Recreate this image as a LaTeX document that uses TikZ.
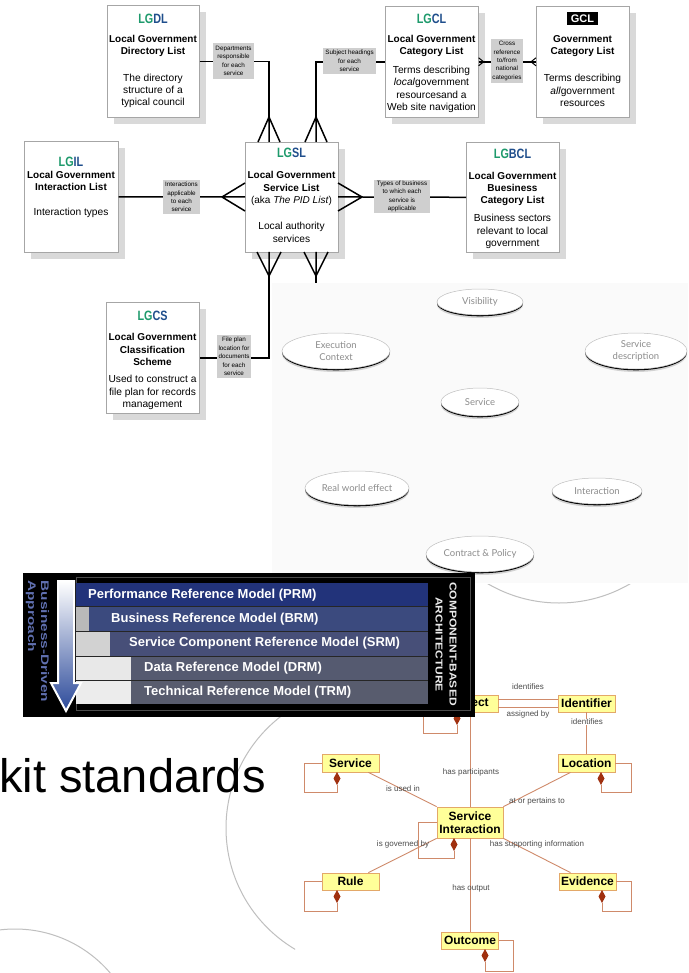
\documentclass[tikz,border=0pt]{standalone}
\usepackage{fontspec}
\setmainfont{Liberation Sans}
\newfontfamily\latofont{Lato}
\usetikzlibrary{shapes.geometric,calc}
\definecolor{lggreen}{HTML}{1E9A6C}
\definecolor{lgblue}{HTML}{1F4E8C}
\definecolor{umlfill}{HTML}{FFFF99}
\definecolor{umlborder}{HTML}{E3A869}
\definecolor{umlline}{HTML}{CF8A6A}
\definecolor{dmdcol}{HTML}{A0300F}
\definecolor{prmcol}{HTML}{22337A}
\definecolor{brmcol}{HTML}{3B4A7E}
\definecolor{srmcol}{HTML}{474F78}
\definecolor{drmcol}{HTML}{555A70}
\definecolor{trmcol}{HTML}{585C6E}
\definecolor{arrowblue}{HTML}{2C4A9A}
\definecolor{bdblue}{HTML}{6070B0}
\newcommand\lgt[2]{\scalebox{0.8}[1]{\textcolor{lggreen}{#1}\textcolor{lgblue}{#2}}}
\newcommand\mkbox[5]{%
  \fill[shad] ({#2+7},{#3+7}) rectangle ({#4+7},{#5+7});
  \node[lgbox, minimum width={#4-#2}, minimum height={#5-#3}] (#1) at (#2,#3) {};}
\newcommand\mkell[6]{%
  \fill[gray!35] (#2,{#3+3}) ellipse [x radius=#4pt, y radius=#5pt];
  \fill[black] (#2,{#3+1.3}) ellipse [x radius=#4pt, y radius=#5pt];
  \node[ellbox, minimum width={2*#4}, minimum height={2*#5}] (#1) at (#2,#3) {#6};}
\newcommand\dmd[2]{\fill[dmdcol] (#1,#2) -- ({#1+3.5},{#2+6.5}) -- (#1,{#2+13}) -- ({#1-3.5},{#2+6.5}) -- cycle;}
\begin{document}
\begin{tikzpicture}[x=1pt,y=-1pt,
  lgbox/.style={draw=gray!70, line width=0.6pt, fill=white, anchor=north west, inner sep=0},
  shad/.style={fill=gray!30},
  conn/.style={line width=1.5pt, black},
  lab/.style={fill=gray!38, inner sep=0, align=center, font=\fontsize{6.3}{8.4}\selectfont, text=black},
  ttl/.style={inner sep=0, font=\fontsize{13.5}{14}\selectfont\bfseries},
  bld/.style={align=center, font=\fontsize{10}{12.2}\selectfont\bfseries, inner sep=0},
  dsc/.style={align=center, font=\fontsize{10.2}{12.3}\selectfont, inner sep=0},
  ellbox/.style={ellipse, draw=gray!50, line width=0.5pt, fill=white, inner sep=0, align=center,
     font=\latofont\fontsize{9.5}{12}\selectfont, text=black!45},
  arcl/.style={draw=gray!50, line width=1pt},
  uml/.style={draw=umlborder, fill=umlfill, line width=0.8pt, inner sep=0, align=center,
     font=\fontsize{12}{13.5}\selectfont\bfseries},
  ul/.style={draw=umlline, line width=0.9pt},
  ulab/.style={inner sep=0.5, font=\fontsize{8}{8}\selectfont, text=black!70},
  feat/.style={inner sep=0, anchor=west, text=white, font=\fontsize{13}{13}\selectfont\bfseries},
  vtxt/.style={rotate=-90, inner sep=0, font=\fontsize{10}{10}\selectfont\bfseries, text=gray!15},
  btxt/.style={rotate=-90, inner sep=0, font=\fontsize{11}{11}\selectfont\bfseries, text=bdblue}
]
\useasboundingbox (0,0) rectangle (688,973);
\fill[white] (0,0) rectangle (688,973);

% ---------- ellipse region ----------
\fill[gray!4] (272,283) rectangle (688,583);
\mkell{vis}{480}{302}{43}{13}{Visibility}
\mkell{exe}{336}{351}{54}{18}{Execution\\Context}
\mkell{sdesc}{636}{351}{51}{18}{Service\\description}
\mkell{svce}{480}{402}{39}{14}{Service}
\mkell{rwe}{357}{488}{52}{17}{Real world effect}
\mkell{inte}{597}{491}{45}{13}{Interaction}
\mkell{cp}{480}{554}{54}{18}{Contract \& Policy}

% ---------- arcs ----------
\begin{scope}\clip (0,700) rectangle (295,973); \draw[arcl] (367,828) circle [radius=141pt]; \end{scope}
\begin{scope}\clip (470,584) rectangle (660,640); \draw[arcl] (559,462) circle [radius=141pt]; \end{scope}
\begin{scope}\clip (0,900) rectangle (200,973); \draw[arcl] (15,1054) circle [radius=125pt]; \end{scope}

% ---------- LG boxes ----------
\mkbox{dl}{107}{5}{199}{117}
\node[ttl] (dlt) at (153,19) {\lgt{LG}{DL}};
\node[bld] (dlb) at (153,46) {Local Government\\Directory List};
\node[dsc] (dld) at (153,91) {The directory\\structure of a\\typical council};

\mkbox{cl}{385}{6}{478}{117}
\node[ttl] (clt) at (431.5,19) {\lgt{LG}{CL}};
\node[bld] (clb) at (431.5,46) {Local Government\\Category List};
\node[dsc] (cld) at (431.5,89.5) {Terms describing\\\textit{local}government\\resourcesand a\\Web site navigation};

\mkbox{gc}{536}{6}{629}{117}
\node[fill=black, text=white, font=\fontsize{11}{11}\selectfont\bfseries, minimum width=31, minimum height=13, inner sep=0] (gct) at (582.5,18.5) {GCL};
\node[bld] (gcb) at (582.5,46) {Government\\Category List};
\node[dsc] (gcd) at (582.5,90.5) {Terms describing\\\textit{all}government\\resources};

\mkbox{il}{24}{141}{118}{252}
\node[ttl] (ilt) at (71,162) {\lgt{LG}{IL}};
\node[bld] (ilb) at (71,181) {Local Government\\Interaction List};
\node[dsc] (ild) at (71,213) {Interaction types};

\mkbox{sl}{245}{142}{338}{252}
\node[ttl] (slt) at (291.5,153) {\lgt{LG}{SL}};
\node[bld] (slb) at (291.5,188.5) {Local Government\\Service List\\{\mdseries(aka \textit{The PID List})}};
\node[dsc] (sld) at (291.5,232.5) {Local authority\\services};

\mkbox{bc}{466}{142}{559}{252}
\node[ttl] (bct) at (512.5,154) {\lgt{LG}{BCL}};
\node[bld] (bcb) at (512.5,189) {Local Government\\Buesiness\\Category List};
\node[dsc] (bcd) at (512.5,231.5) {Business sectors\\relevant to local\\government};

\mkbox{cs}{106}{302}{199}{413}
\node[ttl] (cst) at (152.5,316) {\lgt{LG}{CS}};
\node[bld] (csb) at (152.5,349.5) {Local Government\\Classification\\Scheme};
\node[dsc] (csd) at (152.5,392.5) {Used to construct a\\file plan for records\\management};

% ---------- connectors ----------
\coordinate (a1) at (269,117);
\coordinate (a2) at (316,117);
\coordinate (a3) at (222,197);
\coordinate (a4) at (362,197);
\coordinate (a5) at (269,276);
\coordinate (a6) at (316,276);
\draw[conn] (dl.east) -- (dl.east -| a1) -- (a1);
\draw[conn] (a1) -- ++(-11,25) (a1) -- ++(0,25) (a1) -- ++(11,25);
\draw[conn] (cl.west) -- (cl.west -| a2) -- (a2);
\draw[conn] (a2) -- ++(-11,25) (a2) -- ++(0,25) (a2) -- ++(11,25);
\draw[conn] (il.east) -- (a3);
\draw[conn] (a3) -- ++(23,-14) (a3) -- ++(23,0) (a3) -- ++(23,14);
\draw[conn] (bc.west) -- (a4);
\draw[conn] (a4) -- ++(-24,-14) (a4) -- ++(-24,0) (a4) -- ++(-24,14);
\draw[conn] (a5) -- (a5 |- cs.east) -- (cs.east);
\draw[conn] (a5) -- ++(-12,-24) (a5) -- ++(0,-24) (a5) -- ++(12,-24);
\draw[conn] (a6) -- ++(-12,-24) (a6) -- ++(0,-24) (a6) -- ++(12,-24);
\draw[conn] (a6) -- ++(0,7);
\draw[conn] (cl.east) -- (gc.west);
\draw[line width=1pt] (cl.east) ++(5,0) -- ++(-5,-4) (cl.east) ++(5,0) -- ++(-5,4);
\draw[line width=1pt] (gc.west) ++(-5,0) -- ++(5,-4) (gc.west) ++(-5,0) -- ++(5,4);

\node[lab, minimum width=41, minimum height=36] (l1) at (233.5,61) {Departments\\responsible\\for each\\service};
\node[lab, minimum width=53, minimum height=26] (l2) at (349.5,61) {Subject headings\\for each\\service};
\node[lab, minimum width=32, minimum height=44] (l3) at (507,61) {Cross\\reference\\to/from\\national\\categories};
\node[lab, minimum width=37, minimum height=34] (l4) at (181.5,197) {Interactions\\applicable\\to each\\service};
\node[lab, minimum width=56, minimum height=33] (l5) at (402,196.5) {Types of business\\to which each\\service is\\applicable};
\node[lab, minimum width=34, minimum height=43] (l6) at (234,356.5) {File plan\\location for\\documents\\for each\\service};

% ---------- kit standards ----------
\node[anchor=base west, inner sep=0, font=\fontsize{47}{47}\selectfont] (kit) at (-1,792) {kit standards};

% ---------- UML diagram ----------
\node[uml, minimum width=56, minimum height=17] (obj) at (470,703.5) {Object};
\node[uml, minimum width=57, minimum height=17] (idf) at (586.5,703.5) {Identifier};
\node[uml, minimum width=57, minimum height=18] (svc) at (350.5,763) {Service};
\node[uml, minimum width=57, minimum height=18] (loc) at (586.5,763) {Location};
\node[uml, minimum width=66, minimum height=31] (si) at (470,822.5) {Service\\Interaction};
\node[uml, minimum width=57, minimum height=17] (rule) at (350.5,881.5) {Rule};
\node[uml, minimum width=57, minimum height=17] (evd) at (587.5,881.5) {Evidence};
\node[uml, minimum width=57, minimum height=17] (out) at (470,940.5) {Outcome};

\draw[ul] ([yshift=4pt]obj.east) -- ([yshift=4pt]idf.west);
\draw[ul] ([yshift=-4pt]obj.east) -- ([yshift=-4pt]idf.west);
\draw[ul] (idf.south) -- (loc.north);
\draw[ul] (obj.south) -- (si.north);
\draw[ul] (si.south) -- (out.north);
\draw[ul] ([xshift=-11pt]svc.south east) -- (si.north west);
\draw[ul] ([xshift=-16pt]loc.south) -- (si.north east);
\draw[ul] ([xshift=-11pt]rule.north east) -- (si.south west);
\draw[ul] ([xshift=-17pt]evd.north) -- (si.south east);

\draw[ul] (obj.west) -- (423,703.5) -- (423,733) -- (457,733) -- (457,725);
\dmd{457}{712}
\draw[ul] (svc.west) -- (304,763) -- (304,792) -- (337,792) -- (337,785);
\dmd{337}{772}
\draw[ul] (loc.east) -- (631,763) -- (631,792) -- (601,792) -- (601,785);
\dmd{601}{772}
\draw[ul] (si.west) -- (418,822.5) -- (418,858) -- (454,858) -- (454,851);
\dmd{454}{838}
\draw[ul] (rule.west) -- (304,881.5) -- (304,911) -- (337,911) -- (337,903);
\dmd{337}{890}
\draw[ul] (evd.east) -- (631,881.5) -- (631,911) -- (602,911) -- (602,903);
\dmd{602}{890}
\draw[ul] (out.east) -- (513,940.5) -- (513,971) -- (485,971) -- (485,962);
\dmd{485}{949}

\node[ulab] (u1) at (528,687) {identifies};
\node[ulab] (u2) at (528,714) {assigned by};
\node[ulab, fill=white] (u3) at (587,722) {identifies};
\node[ulab] (u4) at (471,772) {has participants};
\node[ulab] (u5) at (403,789) {is used in};
\node[ulab] (u6) at (537,801) {at or pertains to};
\node[ulab] (u7) at (403,844) {is governed by};
\node[ulab] (u8) at (537,844) {has supporting information};
\node[ulab] (u9) at (471,888) {has output};

% ---------- FEA box ----------
\node[fill=black, minimum width=452, minimum height=144, anchor=north west, inner sep=0] (fea) at (23,573) {};
\draw[gray!60!black, line width=0.8pt] (76,577) rectangle (470,710);
\fill[prmcol] (76,583) rectangle (428,606);
\fill[gray!55] (76,606) rectangle (89,631);
\fill[brmcol] (89,606) rectangle (428,631);
\fill[gray!35] (76,631) rectangle (110,656);
\fill[srmcol] (110,631) rectangle (428,656);
\fill[gray!18] (76,656) rectangle (131,680);
\fill[drmcol] (131,656) rectangle (428,680);
\fill[gray!15] (76,680) rectangle (131,704);
\fill[trmcol] (131,680) rectangle (428,704);
\draw[black!85, line width=1pt] (76,606) -- (428,606) (76,631) -- (428,631) (76,656) -- (428,656) (76,680) -- (428,680);
\node[feat] (prm) at (88,595) {Performance Reference Model (PRM)};
\node[feat] (brm) at (111,619) {Business Reference Model (BRM)};
\node[feat] (srm) at (129,643.5) {Service Component Reference Model (SRM)};
\node[feat] (drm) at (144,668) {Data Reference Model (DRM)};
\node[feat] (trm) at (144,692) {Technical Reference Model (TRM)};
\node[vtxt] (cba1) at (453,644) {\scalebox{1.2}[1]{COMPONENT-BASED}};
\node[vtxt] (cba2) at (439,644.5) {\scalebox{1.2}[1]{ARCHITECTURE}};
\path[draw=white, line width=2pt, top color=white, bottom color=arrowblue]
  (58,581) -- (74,581) -- (74,683) -- (81,683) -- (66,711) -- (51,683) -- (58,683) -- cycle;
\node[btxt] (bd1) at (45,641.5) {\scalebox{1.4}[1]{Business-Driven}};
\node[btxt, anchor=west] (bd2) at (31,580) {\scalebox{1.4}[1]{Approach}};
\end{tikzpicture}
\end{document}
